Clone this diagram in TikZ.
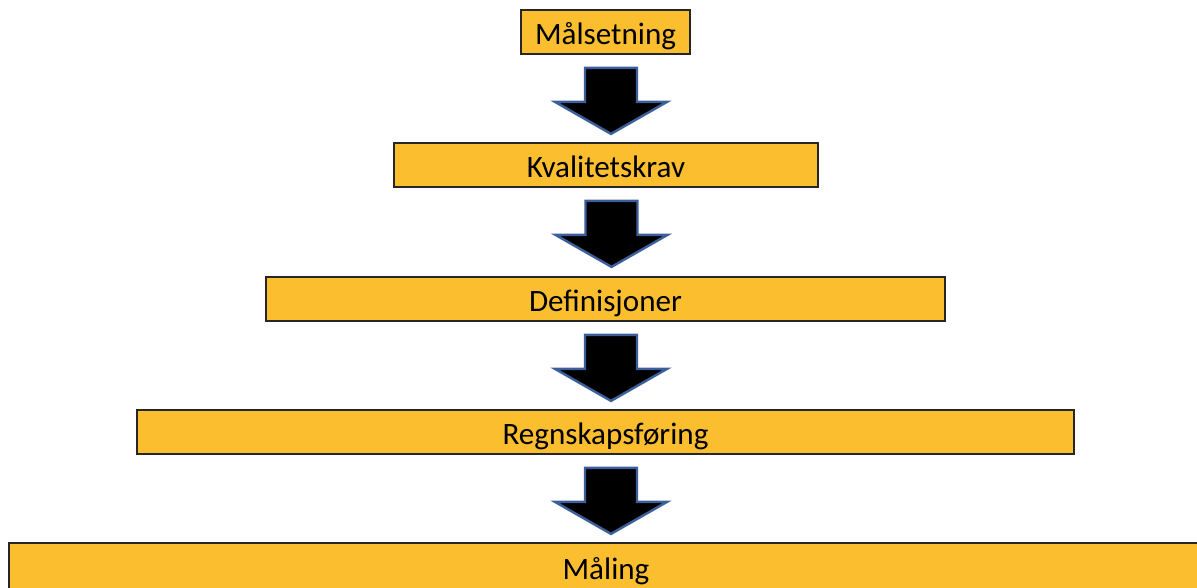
\documentclass[tikz,border=0pt]{standalone}
\usepackage{fontspec}
\setmainfont{Carlito}
\usetikzlibrary{calc}

\definecolor{boxfill}{RGB}{251,190,46}
\definecolor{arrowline}{RGB}{60,95,155}

\tikzset{
  stage/.style={draw=black!85, line width=1pt, fill=boxfill, minimum height=0.88cm,
    inner sep=0pt, text height=16pt, text depth=1.5pt, font=\fontsize{17.7}{21}\selectfont},
  blockarrow/.style={fill=black, draw=arrowline, line width=1.4pt, line join=miter}
}

% block arrow hanging below a named stage box
\newcommand{\blockdown}[1]{%
  \coordinate (#1-top) at ($(#1.south)+(0.11,-0.26)$);
  \draw[blockarrow] ($(#1-top)+(-0.52,0)$) -- ++(0,-0.68) -- ++(-0.60,0)
    -- ++(1.12,-0.64) -- ++(1.12,0.64) -- ++(-0.60,0) -- ++(0,0.68) -- cycle;
}

\begin{document}
\begin{tikzpicture}
  \useasboundingbox (0,0) rectangle (23.94,-11.74);
  % stage boxes
  \node[stage, minimum width=3.38cm] (maal) at (12.11,-0.64) {Målsetning};
  \node[stage, minimum width=8.48cm] (krav) at (12.12,-3.30) {Kvalitetskrav};
  \node[stage, minimum width=13.58cm] (def) at (12.11,-5.98) {Definisjoner};
  \node[stage, minimum width=18.74cm] (regn) at (12.11,-8.64) {Regnskapsføring};
  \node[stage, minimum width=23.88cm, minimum height=0.96cm] (maaling) at (12.12,-11.34) {Måling};
  % arrows between the stages
  \blockdown{maal}
  \blockdown{krav}
  \blockdown{def}
  \blockdown{regn}
\end{tikzpicture}
\end{document}
